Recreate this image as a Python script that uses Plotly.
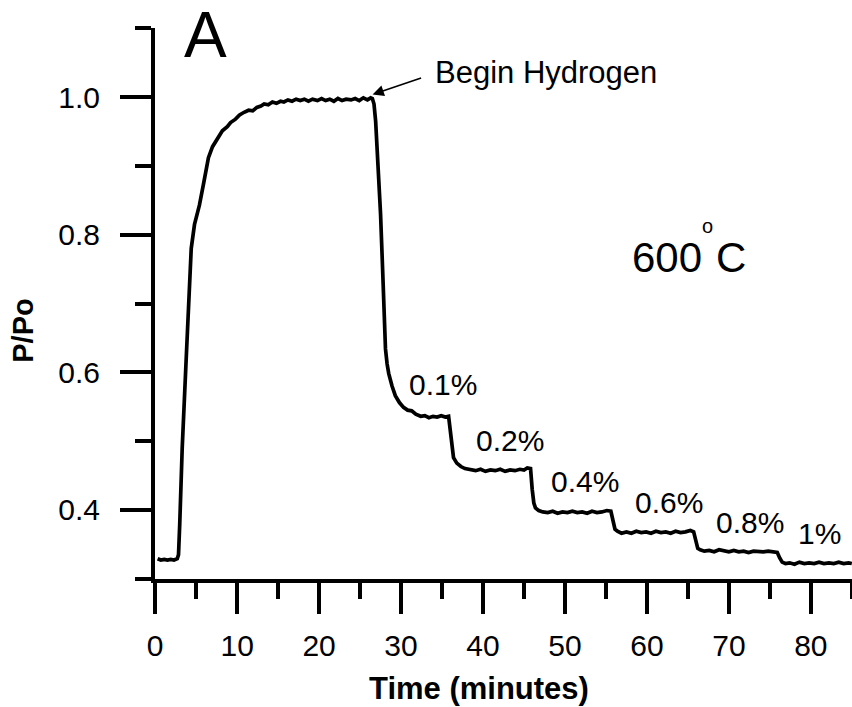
import plotly.graph_objects as go

# ---- data ----
time_min = [
    0.3, 0.7, 1.1, 1.5, 1.9, 2.3, 2.7,
    2.85, 3.0, 3.3, 3.75, 4.15, 4.4, 4.8, 5.4, 5.9, 6.5, 7.0, 7.6, 8.2, 8.8, 9.2, 9.8,
    10.3, 10.85, 11.4, 11.9, 12.4, 12.9, 13.3, 13.8, 14.3, 14.8, 15.3, 15.7, 16.2, 16.7,
    17.2, 17.7, 18.2, 18.7, 19.2, 19.8, 20.3, 20.8, 21.3, 21.8, 22.3, 22.8, 23.3, 23.9,
    24.4, 24.9, 25.4, 25.9, 26.3,
    26.5, 26.7, 26.9, 27.2, 27.5, 27.75, 27.95, 28.1, 28.3, 28.5, 28.9, 29.3, 29.8, 30.3,
    30.8, 31.3, 31.8, 32.4, 32.9, 33.4, 33.9, 34.4, 34.9, 35.4, 35.8,
    36.0, 36.2, 36.4, 36.8, 37.3, 37.8, 38.5, 39.1, 39.7, 40.3, 40.9, 41.5, 42.1, 42.7,
    43.3, 43.9, 44.5, 45.0, 45.4, 45.8,
    46.0, 46.2, 46.4, 46.8, 47.3, 47.9, 48.5, 49.1, 49.7, 50.3, 50.9, 51.5, 52.1, 52.7,
    53.3, 53.9, 54.5, 55.1, 55.6,
    55.9, 56.1, 56.4, 56.9, 57.5, 58.1, 58.7, 59.3, 59.9, 60.5, 61.1, 61.7, 62.3, 62.9,
    63.5, 64.1, 64.7, 65.3, 65.7,
    66.0, 66.2, 66.5, 67.0, 67.6, 68.2, 68.8, 69.4, 70.0, 70.6, 71.2, 71.8, 72.4, 73.0,
    73.6, 74.2, 74.8, 75.4, 75.9,
    76.2, 76.5, 76.9, 77.4, 78.0, 78.6, 79.2, 79.8, 80.4, 81.0, 81.6, 82.2, 82.8, 83.4,
    84.0, 84.6, 85.0,
]
p_over_po = [
    0.329, 0.327, 0.328, 0.327, 0.328, 0.327, 0.329,
    0.335, 0.38, 0.49, 0.61, 0.705, 0.78, 0.815, 0.843, 0.874, 0.912, 0.928, 0.940, 0.951, 0.957, 0.963, 0.968,
    0.974, 0.978, 0.981, 0.980, 0.985, 0.987, 0.990, 0.989, 0.993, 0.991, 0.994, 0.993, 0.996, 0.994,
    0.997, 0.995, 0.997, 0.994, 0.997, 0.995, 0.998, 0.995, 0.997, 0.994, 0.998, 0.995, 0.997, 0.996,
    0.998, 0.995, 0.999, 0.996, 0.999,
    0.998, 0.99, 0.965, 0.90, 0.83, 0.75, 0.68, 0.634, 0.612, 0.598, 0.580, 0.566, 0.556, 0.549,
    0.545, 0.544, 0.539, 0.536, 0.537, 0.534, 0.536, 0.535, 0.537, 0.535, 0.536,
    0.515, 0.49, 0.476, 0.468, 0.463, 0.460, 0.459, 0.457, 0.459, 0.456, 0.458, 0.457, 0.459, 0.456,
    0.458, 0.457, 0.459, 0.458, 0.461, 0.460,
    0.43, 0.41, 0.403, 0.399, 0.397, 0.396, 0.398, 0.395, 0.397, 0.396, 0.398, 0.396, 0.397, 0.395,
    0.398, 0.396, 0.397, 0.399, 0.398,
    0.385, 0.372, 0.369, 0.366, 0.368, 0.366, 0.369, 0.367, 0.368, 0.366, 0.369, 0.367, 0.368, 0.366,
    0.369, 0.367, 0.368, 0.370, 0.368,
    0.352, 0.344, 0.342, 0.340, 0.341, 0.339, 0.342, 0.340, 0.339, 0.341, 0.339, 0.340, 0.338, 0.340,
    0.339, 0.339, 0.340, 0.339, 0.338,
    0.330, 0.324, 0.322, 0.323, 0.321, 0.324, 0.322, 0.323, 0.322, 0.324, 0.322, 0.323, 0.322, 0.324,
    0.322, 0.323, 0.322,
]

step_labels = ["0.1%", "0.2%", "0.4%", "0.6%", "0.8%", "1%"]
step_label_x = [35.06, 43.35, 52.49, 62.73, 72.6, 81.0]
step_label_y = [0.5825, 0.501, 0.441, 0.410, 0.381, 0.366]

x_ticks = [0, 10, 20, 30, 40, 50, 60, 70, 80]
y_ticks = [0.4, 0.6, 0.8, 1.0]
y_tick_text = ["0.4", "0.6", "0.8", "1.0"]

FONT = "Liberation Sans, Arial, sans-serif"

fig = go.Figure()
fig.add_trace(go.Scatter(
    x=time_min, y=p_over_po, mode="lines",
    line=dict(color="black", width=3.7), showlegend=False, hoverinfo="skip",
))

annotations = []
for txt, xx, yy in zip(step_labels, step_label_x, step_label_y):
    annotations.append(dict(x=xx, y=yy, xref="x", yref="y", text=txt, showarrow=False,
                            font=dict(family=FONT, size=30, color="black"),
                            xanchor="center", yanchor="middle"))

# Begin Hydrogen text + arrow
annotations.append(dict(x=33.85, y=1.036, xref="x", yref="y", text="Begin Hydrogen",
                        showarrow=False, xanchor="left", yanchor="middle",
                        font=dict(family=FONT, size=31, color="black")))
annotations.append(dict(x=26.53, y=1.004, xref="x", yref="y", text="", showarrow=True,
                        ax=50, ay=-17, axref="pixel", ayref="pixel",
                        arrowhead=2, arrowsize=1.4, arrowwidth=1.6, arrowcolor="black"))

# Panel letter
annotations.append(dict(x=6.18, y=1.09, xref="x", yref="y", text="A", showarrow=False,
                        xanchor="center", yanchor="middle",
                        font=dict(family=FONT, size=64, color="black")))
# 600 oC
annotations.append(dict(x=57.98, y=0.767, xref="x", yref="y", text="600", showarrow=False,
                        xanchor="left", yanchor="middle",
                        font=dict(family=FONT, size=42, color="black")))
annotations.append(dict(x=67.42, y=0.812, xref="x", yref="y", text="o", showarrow=False,
                        xanchor="center", yanchor="middle",
                        font=dict(family=FONT, size=20, color="black")))
annotations.append(dict(x=70.29, y=0.767, xref="x", yref="y", text="C", showarrow=False,
                        xanchor="center", yanchor="middle",
                        font=dict(family=FONT, size=42, color="black")))

# Axis titles
annotations.append(dict(x=0.465, y=-0.199, xref="paper", yref="paper", text="<b>Time (minutes)</b>",
                        showarrow=False, xanchor="center", yanchor="middle",
                        font=dict(family=FONT, size=31, color="black")))
annotations.append(dict(x=-0.189, y=0.451, xref="paper", yref="paper", text="<b>P/Po</b>",
                        showarrow=False, xanchor="center", yanchor="middle", textangle=-90,
                        font=dict(family=FONT, size=29, color="black")))

fig.update_layout(
    width=852, height=707,
    margin=dict(l=155, r=0, t=28, b=128, pad=0),
    paper_bgcolor="white", plot_bgcolor="white",
    annotations=annotations,
    font=dict(family=FONT, color="black"),
)
fig.update_xaxes(
    range=[-0.02, 85.02], showgrid=False, zeroline=False,
    showline=True, linecolor="black", linewidth=4,
    ticks="outside", ticklen=31, tickwidth=4, tickcolor="black",
    tickmode="array", tickvals=x_ticks, ticktext=[str(v) for v in x_ticks],
    tickfont=dict(family=FONT, size=30, color="black"), ticklabelstandoff=6,
    minor=dict(ticks="outside", ticklen=16, tickwidth=4, tickcolor="black", dtick=5, tick0=0, showgrid=False),
)
fig.update_yaxes(
    range=[0.2995, 1.1005], showgrid=False, zeroline=False,
    showline=True, linecolor="black", linewidth=4,
    ticks="outside", ticklen=31, tickwidth=4, tickcolor="black",
    tickmode="array", tickvals=y_ticks, ticktext=y_tick_text,
    tickfont=dict(family=FONT, size=30, color="black"), ticklabelstandoff=14,
    minor=dict(ticks="outside", ticklen=16, tickwidth=4, tickcolor="black", dtick=0.1, tick0=0.3, showgrid=False),
)

fig.write_html(
    "out.html",
    config={"displayModeBar": False},
    post_script="document.body.style.margin='0';document.body.style.overflow='hidden';",
)
